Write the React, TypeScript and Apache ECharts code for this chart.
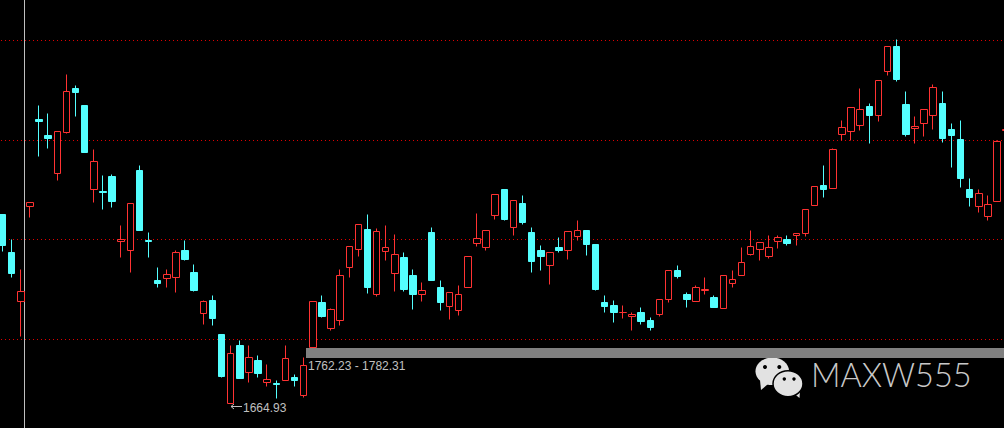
import React, { useEffect, useRef } from "react";
import * as echarts from "echarts";

const opens = [2063.6,1981.7,1880.2,2079.7,2262.4,2229.5,2148.3,2234.4,2328.2,2290.4,2115.4,2109.8,2141.3,2006.2,1987.3,2156,2006.9,1922.9,1928.5,1930.6,1988,1939.7,1855,1880.9,1811.6,1666,1786.4,1731.1,1754.9,1710.1,1707.3,1714.3,1719.2,1682.8,1783.6,1876.7,1823.5,1840.3,1951.6,1989.4,2032.1,1894.2,1985.2,1939,1971.2,1933.4,1894.9,2023.7,1908.2,1869.7,1861.3,1908.9,2002,1993.6,2060.8,2116.1,2035.6,2086.7,2025.8,1985.9,1955.1,1994.3,1987.3,2016,2027.9,2000.6,1878.8,1870.4,1857.8,1848,1855.7,1838.9,1852.2,1884.4,1946,1895.6,1879.5,1903.3,1887.2,1864.8,1917.3,1934.1,1978.2,1988.7,1974,2005.5,2011.1,2018.1,2022.3,2081.1,2122.4,2116.8,2230.2,2236.5,2249.1,2288.3,2270.1,2362.5,2414.3,2294.6,2242.8,2253.3,2270.1,2296.7,2242.1,2221.1,2116.1,2079,2058,2089.5,2238.6];
const closes = [1997.1,1938.3,1901.2,2088.1,2257.5,2221.8,2237.2,2321.2,2318.4,2192.4,2174.2,2108.4,2089.5,2010.4,2086,2028.6,2005.5,1917.3,1936.9,1983.1,1967.7,1902.6,1880.2,1843.8,1722,1771,1717.8,1762.6,1728.3,1715.7,1705.9,1760.5,1715,1745.8,1880.2,1848,1863.4,1934.8,1995.7,2041.9,1908.9,2027.2,1993.6,1978.9,1904.7,1894.2,1903.3,1925,1877.4,1899.1,1894.9,1974.7,2012.5,2029.3,2104.9,2051.7,2092.3,2045.4,1963.5,1974,1983.1,1985.9,2027.2,2029.3,1999.2,1904.7,1869,1856.4,1856.4,1852.9,1837.5,1824.9,1884.4,1945.3,1932,1883.7,1909.6,1905.4,1868.3,1934.8,1926.4,1962.1,1995.7,2004.1,1993.6,2014.6,2001.3,2023,2073.4,2121.7,2114.7,2199.4,2245.6,2287.6,2283.4,2270.1,2344.3,2415.7,2345.7,2230.2,2247.7,2283.4,2329.6,2221.8,2228.1,2137.8,2097.9,2107,2083.9,2216.2,2242.1];
const lows = [1984.5,1929.9,1806,2055.9,2184,2200.8,2133.6,2232.3,2268,2192.4,2087.4,2072.7,2076.9,1971.9,1940.4,2028.6,1971.9,1908.9,1908.9,1898.4,1965.6,1900.5,1831.2,1829.1,1719.9,1664.93,1717.8,1709.4,1719.9,1701,1675.8,1714.3,1701,1677.2,1783.6,1845.9,1818.6,1829.1,1929.9,1974,1896.3,1890,1965.6,1900.5,1900.5,1862.7,1879.5,1923.6,1860.6,1841.7,1850.1,1908.9,1995,1986.6,2051.7,2049.6,2018.1,2041.2,1940.4,1944.6,1915.2,1982.4,1967.7,2007.6,1976.1,1902.6,1856.4,1835.4,1843.8,1818.6,1831.2,1818.6,1848,1877.4,1927.8,1866.9,1879.5,1894.2,1866.2,1864.8,1908.9,1934.1,1976.1,1965.6,1969.8,1990.8,1997.1,1997.1,2016,2081.1,2097.9,2116.8,2217.6,2217.6,2238.6,2211.3,2257.5,2354.1,2341.5,2226,2211.3,2226,2240.7,2213.4,2160.9,2118.9,2079,2066.4,2049.6,2089.5,2238.6];
const highs = [2063.6,2011.1,1947.4,2088.1,2291.8,2275,2237.2,2357.6,2334.5,2290.4,2200.1,2143.4,2147.6,2038.4,2086,2164.4,2025.8,1952.3,1947.4,1987.3,2006.9,1958.6,1882.3,1893.5,1811.6,1786.4,1796.9,1786.4,1765.4,1748.6,1715,1788.5,1727.6,1761.2,1880.2,1893.5,1865.5,1948.1,1995.7,2041.9,2063.6,2033.5,2040.5,2021.6,1983.8,1948.1,1918.7,2034.2,1922.9,1899.1,1912.4,1974.7,2065.7,2029.3,2104.9,2116.1,2092.3,2101.4,2034.2,1998.5,1983.1,2013.2,2027.2,2048.9,2027.9,2000.6,1893.5,1883,1870.4,1857.8,1868.3,1847.3,1884.4,1945.3,1956.5,1899.8,1913.8,1929.2,1893.5,1934.8,1943.9,1992.2,2027.9,2004.1,2017.4,2019.5,2019.5,2023,2073.4,2121.7,2166.5,2202.2,2258.9,2287.6,2328.2,2296.7,2344.3,2415.7,2431.1,2319.8,2267.3,2283.4,2336.6,2319.8,2254.7,2258.9,2139.2,2116.1,2101.4,2218.3,2242.1];
const categories = opens.map((_, i) => String(i + 1));
const guideLevels = [2428, 2218, 2010, 1800];
const zoneLow = 1762.23;
const zoneHigh = 1782.31;
const zoneStartIndex = 33;
const zoneLabel = "1762.23 - 1782.31";
const lowLabel = "1664.93";
const brandName = "MAXW555";

const RED = "#ff3232";
const CYAN = "#54ffff";
const LABEL = "#c0c0c0";
const ICON = "#e2e2e2";
const AXIS_MAX = 2513;
const AXIS_MIN = 1614.2;
const PRICE_PER_ROW = (AXIS_MAX - AXIS_MIN) / 428;

// The terminal draws on whole pixel rows: settle each price on the centre of its row so 1px edges stay crisp.
const onRow = (v: number) =>
  AXIS_MAX - PRICE_PER_ROW * (Math.floor((AXIS_MAX - v) / PRICE_PER_ROW) + 0.5);

export default function App() {
  const ref = useRef<HTMLDivElement>(null);
  useEffect(() => {
    document.body.style.margin = "0";
    document.body.style.background = "#000";
    const chart = echarts.init(ref.current!, null, { renderer: "svg" });
    chart.setOption({
      animation: false,
      backgroundColor: "#000",
      grid: { left: -2, top: 0, width: 1012.7, height: 428, outerBoundsMode: "none", containLabel: false },
      xAxis: { type: "category", data: categories, show: false, boundaryGap: true },
      yAxis: { type: "value", min: AXIS_MIN, max: AXIS_MAX, show: false, splitLine: { show: false } },
      series: [
        {
          type: "custom",
          data: guideLevels.map((v) => [0, v]),
          encode: { x: 0, y: 1 },
          silent: true,
          clip: false,
          z: 1,
          renderItem: (params: any, api: any) => {
            const y = Math.floor(api.coord([0, api.value(1)])[1]) + 0.5;
            return {
              type: "line",
              shape: { x1: 1, y1: y, x2: 1004, y2: y },
              style: { stroke: "#e00000", lineWidth: 1, lineDash: [1, 3], fill: "none" },
            };
          },
        },
        {
          type: "candlestick",
          clip: false,
          barWidth: 7,
          data: opens.map((o, i) => [onRow(o), onRow(closes[i]), onRow(lows[i]), onRow(highs[i])]),
          itemStyle: { color: "#000", color0: CYAN, borderColor: RED, borderColor0: CYAN, borderWidth: 1 },
          z: 3,
        },
        {
          type: "custom",
          data: [[zoneStartIndex, zoneHigh, zoneLow]],
          encode: { x: 0, y: [1, 2] },
          silent: true,
          clip: false,
          z: 2,
          renderItem: (params: any, api: any) => {
            const a = api.coord([api.value(0), api.value(1)]);
            const b = api.coord([api.value(0), api.value(2)]);
            const x0 = Math.round(a[0] + api.size([1, 0])[0] * 0.3);
            return {
              type: "rect",
              shape: { x: x0, y: Math.round(a[1]), width: 1010 - x0, height: Math.round(b[1] - a[1]) },
              style: { fill: "#808080" },
            };
          },
        },
      ],
      graphic: [
        { type: "line", shape: { x1: 24.5, y1: 0, x2: 24.5, y2: 428 }, style: { stroke: "#c0c0c0", lineWidth: 1 }, silent: true },
        { type: "text", x: 308, y: 366, style: { text: zoneLabel, fill: LABEL, font: '12px "Liberation Sans"', textVerticalAlign: "middle" }, silent: true },
        { type: "line", shape: { x1: 231, y1: 406.5, x2: 242, y2: 406.5 }, style: { stroke: LABEL, lineWidth: 1 }, silent: true },
        { type: "polyline", shape: { points: [[234, 404], [231, 406.5], [234, 409]] }, style: { stroke: LABEL, fill: "none", lineWidth: 1 }, silent: true },
        { type: "text", x: 243, y: 407.5, style: { text: lowLabel, fill: LABEL, font: '12px "Liberation Sans"', textVerticalAlign: "middle" }, silent: true },
        { type: "polygon", shape: { points: [[760, 380], [768, 384], [761, 390]] }, style: { fill: ICON }, silent: true },
        { type: "ellipse", shape: { cx: 772.3, cy: 371.3, rx: 16.8, ry: 13.8 }, style: { fill: ICON }, silent: true },
        { type: "circle", shape: { cx: 765, cy: 367, r: 2 }, style: { fill: "#000" }, silent: true },
        { type: "circle", shape: { cx: 779.3, cy: 367, r: 2 }, style: { fill: "#000" }, silent: true },
        { type: "polygon", shape: { points: [[792, 392], [800, 391], [799.5, 398]] }, style: { fill: ICON }, silent: true },
        { type: "ellipse", shape: { cx: 788, cy: 383.7, rx: 15, ry: 13 }, style: { fill: ICON, stroke: "#000", lineWidth: 1.5 }, silent: true },
        { type: "circle", shape: { cx: 784.3, cy: 379, r: 1.7 }, style: { fill: "#000" }, silent: true },
        { type: "circle", shape: { cx: 794, cy: 379, r: 1.7 }, style: { fill: "#000" }, silent: true },
        { type: "text", x: 811, y: 374.5, style: { text: brandName, fill: "#c8c8c8", font: '300 32.5px Lato', textVerticalAlign: "middle" }, silent: true },
      ],
    });
    return () => chart.dispose();
  }, []);
  return <div ref={ref} style={{ width: 1004, height: 428, overflow: "hidden" }} />;
}
